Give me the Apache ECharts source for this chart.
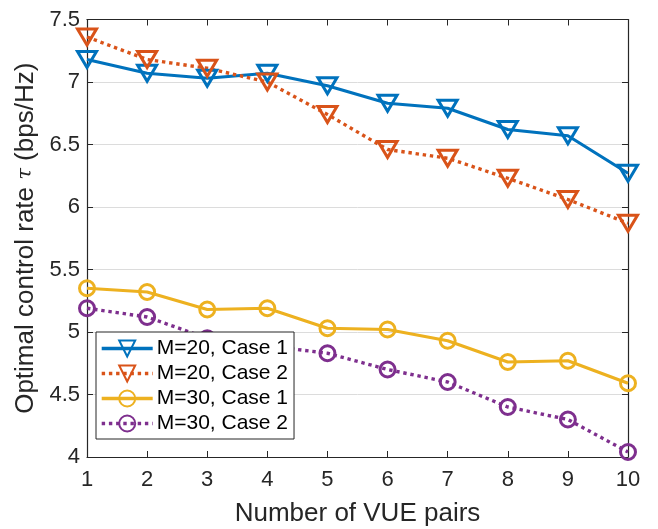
<!DOCTYPE html>
<html><head><meta charset="utf-8">
<script src="https://cdn.jsdelivr.net/npm/echarts@6/dist/echarts.min.js"></script>
<style>html,body{margin:0;padding:0;background:#fff}#c{width:658px;height:529px}</style>
</head><body><div id="c"></div>
<script>
const xValues = [1,2,3,4,5,6,7,8,9,10];
const m20case1 = [7.18,7.07,7.03,7.07,6.97,6.83,6.79,6.62,6.57,6.27];
const m20case2 = [7.36,7.18,7.11,7.00,6.74,6.46,6.39,6.23,6.06,5.87];
const m30case1 = [5.35,5.32,5.18,5.19,5.03,5.02,4.93,4.76,4.77,4.59];
const m30case2 = [5.19,5.12,4.95,4.89,4.83,4.70,4.60,4.40,4.30,4.04];
const seriesNames = ['M=20, Case 1','M=20, Case 2','M=30, Case 1','M=30, Case 2'];
const yTicks = {min:4, max:7.5, step:0.5};
const xTicks = {min:1, max:10, step:1};

const font = 'Liberation Sans, Arial, Helvetica, sans-serif';
const colors = ['#0072BD','#D95319','#EDB120','#7E2F8E'];
const dataSets = [m20case1,m20case2,m30case1,m30case2];

const series = dataSets.map((d,i)=>{
  const isTri = i<2;
  const dotted = (i%2===1);
  return {
    name: seriesNames[i],
    type:'line',
    data: xValues.map((x,k)=>[x,d[k]]),
    symbol: isTri ? 'triangle' : 'circle',
    symbolRotate: isTri ? 180 : 0,
    symbolSize: isTri ? [19,16] : 15,
    showAllSymbol:true,
    lineStyle:{color:colors[i], width: dotted?3.4:3.2, type: dotted?[3.4,3.8]:'solid', cap:'butt'},
    itemStyle:{color:'rgba(255,255,255,0)', borderColor:colors[i], borderWidth:3},
    emphasis:{disabled:true},
    z: 3
  };
});

const chart = echarts.init(document.getElementById('c'), null, {renderer:'canvas'});
const axisLine = {show:true, lineStyle:{color:'#262626', width:1.2}};
chart.setOption({
  animation:false,
  backgroundColor:'#fff',
  grid:{left:87, right:30, top:19.5, bottom:72, containLabel:false, outerBoundsMode:'none'},
  legend:{
    orient:'vertical', left:96, top:332,
    itemWidth:51, itemHeight:20, itemGap:4,
    padding:[6,6,5,4],
    backgroundColor:'#fff', borderColor:'#262626', borderWidth:1,
    textStyle:{fontFamily:font, fontSize:21, color:'#000', padding:[0,0,0,-1]},
    lineStyle:{width:3.4},
    data: seriesNames,
    z: 10
  },
  xAxis:[{
    type:'value', min:xTicks.min, max:xTicks.max, interval:xTicks.step,
    axisLine, axisTick:{inside:true, length:6, lineStyle:{color:'#262626'}},
    axisLabel:{fontFamily:font, fontSize:22, color:'#262626', margin:12},
    splitLine:{show:false},
    name:'Number of VUE pairs', nameLocation:'middle', nameGap:44,
    nameTextStyle:{fontFamily:font, fontSize:26, color:'#262626'}
  },{
    type:'value', position:'top', min:xTicks.min, max:xTicks.max, interval:xTicks.step,
    axisLine, axisTick:{inside:true, length:6, lineStyle:{color:'#262626'}},
    axisLabel:{show:false}, splitLine:{show:false}
  }],
  yAxis:[{
    type:'value', min:yTicks.min, max:yTicks.max, interval:yTicks.step,
    axisLine, axisTick:{inside:true, length:6, lineStyle:{color:'#262626'}},
    axisLabel:{fontFamily:font, fontSize:22, color:'#262626', margin:7},
    splitLine:{show:true, lineStyle:{color:'#dcdcdc', width:1}},
    name:'Optimal control rate {t|τ} (bps/Hz)', nameLocation:'middle', nameGap:47,
    nameTextStyle:{fontFamily:font, fontSize:26, color:'#262626',
      rich:{t:{fontFamily:'DejaVu Serif, serif', fontStyle:'italic', fontSize:21, color:'#262626'}}}
  },{
    type:'value', position:'right', min:yTicks.min, max:yTicks.max, interval:yTicks.step,
    axisLine, axisTick:{inside:true, length:6, lineStyle:{color:'#262626'}},
    axisLabel:{show:false}, splitLine:{show:false}
  }],
  series
});
</script></body></html>
